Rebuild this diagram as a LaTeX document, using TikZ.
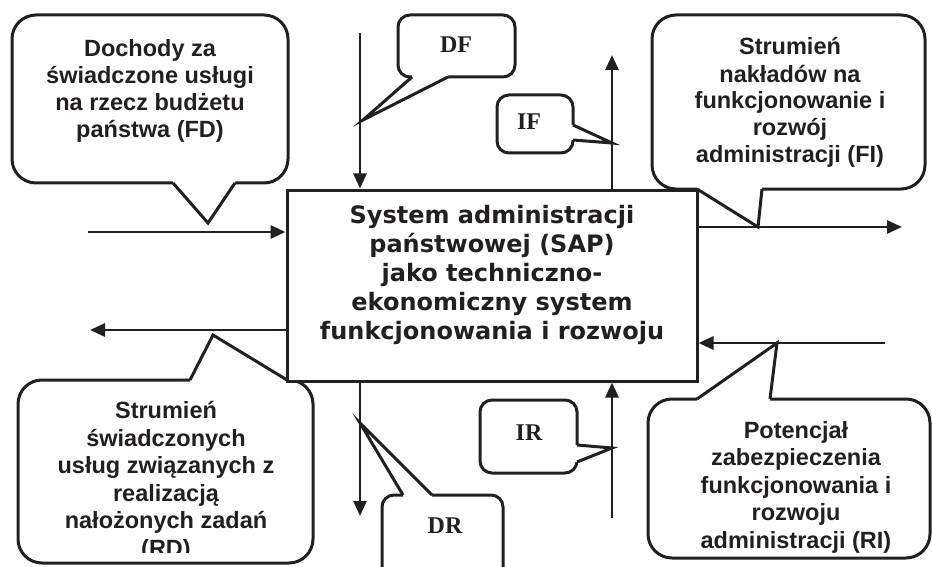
\documentclass[tikz,border=0pt]{standalone}
\usepackage{fontspec}
\setmainfont{Liberation Sans}
\newfontfamily\sapfont{DejaVu Sans}
\newfontfamily\lblfont{Liberation Serif}
\usetikzlibrary{arrows.meta}
\definecolor{ink}{HTML}{231F20}
\begin{document}
\begin{tikzpicture}[x=1pt,y=-1pt,
  cbox/.style={draw=ink, line width=3pt, fill=white, rounded corners=#1},
  ptr/.style={draw=ink, line width=3pt, line join=miter},
  flow/.style={draw=ink, line width=2.8pt, -{Triangle[length=15pt,width=13pt]}},
  ctext/.style={text=ink, font=\fontsize{23.5}{27}\selectfont\bfseries, align=center, inner sep=0pt, anchor=base},
  stext/.style={text=ink, font=\sapfont\fontsize{24}{29}\selectfont\bfseries, align=center, inner sep=0pt, anchor=base},
  ltext/.style={text=ink, font=\lblfont\fontsize{24}{26}\selectfont\bfseries, inner sep=0pt, anchor=base}]
\useasboundingbox (0,0) rectangle (932,567);
\clip (0,0) rectangle (932,567);

% ---- callout FD (top left)
\draw[cbox=24pt] (12,15) rectangle (288,183);
\fill[white] (173,183) -- (208,223) -- (235,183) -- (235,180) -- (173,180) -- cycle;
\draw[ptr] (173,183) -- (208,223) -- (235,183);
% ---- callout FI (top right)
\draw[cbox=24pt] (652,15) rectangle (925,189);
\fill[white] (697,189) -- (758,227) -- (762,189) -- (762,186) -- (697,186) -- cycle;
\draw[ptr] (697,189) -- (758,227) -- (762,189);
% ---- callout RD (bottom left)
\draw[cbox=24pt] (18,380) rectangle (313,563);
\fill[white] (190,380) -- (213,335) -- (287,380) -- (287,383) -- (190,383) -- cycle;
\draw[ptr] (190,380) -- (213,335) -- (287,380);
% ---- callout RI (bottom right)
\draw[cbox=24pt] (648,399) rectangle (930,558);
\fill[white] (697,399) -- (777,343) -- (770,399) -- (770,402) -- (697,402) -- cycle;
\draw[ptr] (697,399) -- (777,343) -- (770,399);
% ---- callout DF
\draw[cbox=12pt] (398,15) rectangle (515,77);
\fill[white] (412,77) -- (363,120) -- (448,77) -- (448,74) -- (412,74) -- cycle;
\draw[ptr] (412,77) -- (363,120) -- (448,77);
% ---- callout IF
\draw[cbox=12pt] (497,95) rectangle (573,153);
\fill[white] (573,125) -- (612,143) -- (573,140) -- (570,140) -- (570,125) -- cycle;
\draw[ptr] (573,125) -- (612,143) -- (573,140);
% ---- callout IR
\draw[cbox=12pt] (480,400) rectangle (577,473);
\fill[white] (577,445) -- (612,448) -- (577,462) -- (574,462) -- (574,445) -- cycle;
\draw[ptr] (577,445) -- (612,448) -- (577,462);
% ---- callout DR
\draw[cbox=12pt] (382,495) rectangle (503,600);
\fill[white] (403,495) -- (360,423) -- (432,495) -- (432,498) -- (403,498) -- cycle;
\draw[ptr] (403,495) -- (360,423) -- (432,495);

% ---- central box
\node[draw=ink, line width=3pt, fill=white, minimum width=410pt, minimum height=191pt, inner sep=0pt] (sap) at (492,285.5) {};
\node[stext] (saptext) at (492,339) {System administracji\\państwowej (SAP)\\jako techniczno-\\ekonomiczny system\\funkcjonowania i rozwoju};

% ---- callout texts
\node[ctext] (fdtext) at (150,138) {Dochody za\\świadczone usługi\\na rzecz budżetu\\państwa (FD)};
\node[ctext] (fitext) at (790,163) {Strumień\\nakładów na\\funkcjonowanie i\\rozwój\\administracji (FI)};
\begin{scope}
\clip (0,0) rectangle (932,552);
\node[ctext, font=\fontsize{23.5}{27.5}\selectfont\bfseries] (rdtext) at (166,556) {Strumień\\świadczonych\\usług związanych z\\realizacją\\nałożonych zadań\\(RD)};
\end{scope}
\node[ctext, font=\fontsize{23.5}{27.5}\selectfont\bfseries] (ritext) at (796,548) {Potencjał\\zabezpieczenia\\funkcjonowania i\\rozwoju\\administracji (RI)};
\node[ltext] (df) at (456,53) {DF};
\node[ltext] (if) at (529,130) {IF};
\node[ltext] (ir) at (529,440) {IR};
\node[ltext] (dr) at (445,533) {DR};

% ---- flows
\coordinate (fdS) at (88,232);
\coordinate (rdE) at (90,330);
\coordinate (fiE) at (902,227);
\coordinate (riS) at (885,343);
\coordinate (dfS) at (360,33);
\coordinate (ifE) at (612,55);
\coordinate (drE) at (360,516);
\coordinate (irS) at (612,518);
\draw[flow] (fdS) -- (fdS -| sap.west);
\draw[flow] (rdE -| sap.west) -- (rdE);
\draw[flow] (fiE -| sap.east) -- (fiE);
\draw[flow] (riS) -- (riS -| sap.east);
\draw[flow] (dfS) -- (dfS |- sap.north);
\draw[flow] (ifE |- sap.north) -- (ifE);
\draw[flow] (drE |- sap.south) -- (drE);
\draw[flow] (irS) -- (irS |- sap.south);
\end{tikzpicture}
\end{document}
